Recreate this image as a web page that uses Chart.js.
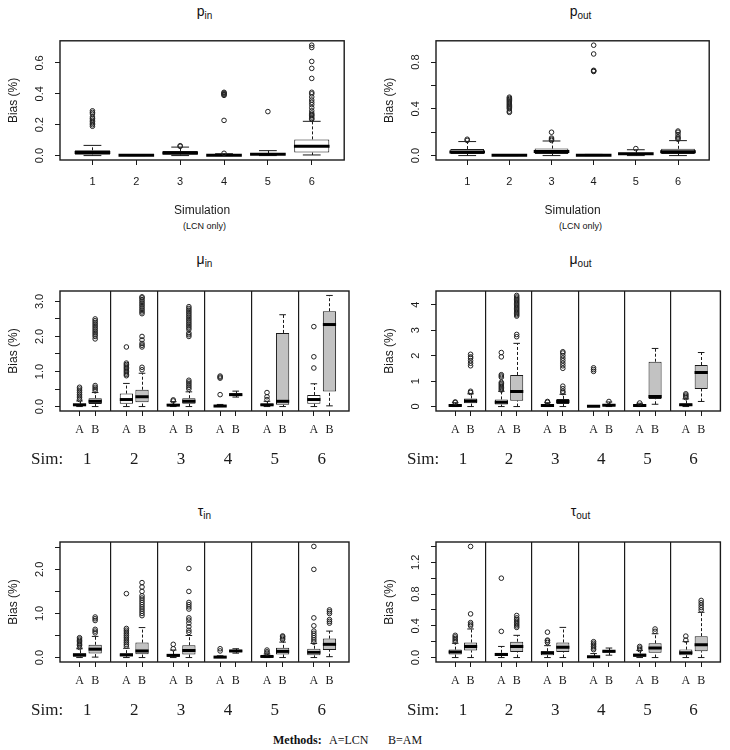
<!DOCTYPE html>
<html lang="en">
<head>
<meta charset="UTF-8">
<title>Bias boxplots</title>
<script src="https://cdn.jsdelivr.net/npm/chart.js"></script>
<style>
  body { margin: 0; background: #fff; width: 730px; height: 750px; position: relative; overflow: hidden;
         font-family: "Liberation Sans", Arial, sans-serif; color: #111; }
  canvas { position: absolute; }
  .title { position: absolute; width: 289px; text-align: center; font-size: 14px; line-height: 16px; }
  .title sub { font-size: 10px; vertical-align: -3px; }
  .note { position: absolute; width: 289px; text-align: center; font-size: 9px; }
  .methods { position: absolute; top: 733px; font-family: "Liberation Serif", serif; font-size: 12px; }
</style>
</head>
<body>
<div class="title" style="left:60px;top:3px">p<sub>in</sub></div>
<div class="title" style="left:436px;top:3px">p<sub>out</sub></div>
<div class="title" style="left:60px;top:251px">&mu;<sub>in</sub></div>
<div class="title" style="left:436px;top:251px">&mu;<sub>out</sub></div>
<div class="title" style="left:60px;top:503px">&tau;<sub>in</sub></div>
<div class="title" style="left:436px;top:503px">&tau;<sub>out</sub></div>
<div class="note" style="left:60px;top:221px">(LCN only)</div>
<div class="note" style="left:436px;top:221px">(LCN only)</div>
<div class="methods" style="left:273px"><b>Methods:</b></div>
<div class="methods" style="left:329px">A=LCN</div>
<div class="methods" style="left:388px">B=AM</div>

<canvas id="pIn" width="365" height="215" style="left:0;top:20px"></canvas>
<canvas id="pOut" width="354" height="215" style="left:376px;top:20px"></canvas>
<canvas id="muIn" width="365" height="210" style="left:0;top:270px"></canvas>
<canvas id="muOut" width="354" height="210" style="left:376px;top:270px"></canvas>
<canvas id="tauIn" width="365" height="200" style="left:0;top:520px"></canvas>
<canvas id="tauOut" width="354" height="200" style="left:376px;top:520px"></canvas>

<script>
const sims = [1, 2, 3, 4, 5, 6];
const posA = [1, 4, 7, 10, 13, 16];
const posB = [2, 5, 8, 11, 14, 17];
const sepPos = [3, 6, 9, 12, 15];

// each box: [lower whisker, Q1, median, Q3, upper whisker]
const pInStats = [[0, 0.006, 0.02, 0.034, 0.066], [0, 0.001, 0.002, 0.004, 0.007], [0, 0.006, 0.016, 0.03, 0.055],
                  [0, 0.001, 0.002, 0.005, 0.012], [0, 0.004, 0.009, 0.016, 0.032], [0.004, 0.02, 0.06, 0.105, 0.222]];
const pInOut = [[0.19, 0.2, 0.21, 0.22, 0.23, 0.24, 0.25, 0.27, 0.28, 0.29], [], [0.06, 0.064],
                [0.015, 0.228, 0.39, 0.395, 0.4, 0.405, 0.41], [0.285],
                [0.235, 0.24, 0.25, 0.26, 0.265, 0.275, 0.29, 0.31, 0.33, 0.345, 0.36, 0.38, 0.4, 0.41, 0.5, 0.565, 0.61, 0.7, 0.715]];
const pInTicks = [0, 0.2, 0.4, 0.6];
const pInTickLabels = ['0.0', '0.2', '0.4', '0.6'];

const pOutStats = [[0, 0.014, 0.03, 0.056, 0.12], [0, 0.001, 0.002, 0.004, 0.006], [0, 0.014, 0.035, 0.06, 0.125],
                   [0, 0.001, 0.002, 0.005, 0.01], [0, 0.006, 0.015, 0.025, 0.05], [0, 0.014, 0.032, 0.058, 0.128]];
const pOutOut = [[0.13, 0.14], [0.37, 0.38, 0.4, 0.41, 0.42, 0.43, 0.44, 0.45, 0.46, 0.47, 0.48, 0.49, 0.5],
                 [0.13, 0.14, 0.15, 0.2], [0.72, 0.725, 0.73, 0.87, 0.945], [0.06], [0.14, 0.15, 0.16, 0.18, 0.2, 0.21]];
const pOutTicks = [0, 0.2, 0.4, 0.6, 0.8];
const pOutTickLabels = ['0.0', '', '0.4', '', '0.8'];

const muInA = [[0, 0.02, 0.05, 0.08, 0.16], [0, 0.08, 0.2, 0.37, 0.66], [0, 0.02, 0.04, 0.07, 0.14],
               [0, 0.005, 0.015, 0.03, 0.06], [0, 0.02, 0.05, 0.08, 0.15], [0, 0.08, 0.2, 0.33, 0.65]];
const muInB = [[0, 0.07, 0.15, 0.24, 0.4], [0, 0.12, 0.28, 0.48, 0.95], [0, 0.08, 0.15, 0.24, 0.42],
               [0.27, 0.3, 0.34, 0.38, 0.44], [0, 0.05, 0.15, 2.1, 2.62], [0.02, 0.43, 2.34, 2.72, 3.17]];
const muInAOut = [[0.2, 0.25, 0.3, 0.35, 0.4, 0.45, 0.5, 0.55], [0.88, 0.92, 0.96, 1.0, 1.04, 1.08, 1.12, 1.16, 1.2, 1.24, 1.7],
                  [0.16, 0.19], [0.34, 0.81, 0.84, 0.87], [0.2, 0.28, 0.4], [1.1, 1.42, 2.28]];
const muInBOut = [[0.45, 0.5, 0.55, 0.6, 1.93, 2.0, 2.05, 2.1, 2.15, 2.2, 2.25, 2.3, 2.35, 2.4, 2.45, 2.5],
                  [1.05, 1.12, 1.7, 1.75, 1.8, 1.9, 2.0, 2.65, 2.7, 2.75, 2.8, 2.85, 2.9, 2.95, 3.0, 3.05, 3.1, 3.13],
                  [0.5, 0.55, 0.6, 0.65, 0.7, 0.75, 2.0, 2.05, 2.1, 2.2, 2.25, 2.3, 2.35, 2.4, 2.45, 2.5, 2.55, 2.6, 2.65, 2.7, 2.75, 2.8, 2.85],
                  [], [], []];
const muInTicks = [0, 0.5, 1, 1.5, 2, 2.5, 3];
const muInTickLabels = ['0.0', '', '1.0', '', '2.0', '', '3.0'];

const muOutA = [[0, 0.01, 0.04, 0.08, 0.15], [0, 0.08, 0.17, 0.28, 0.6], [0, 0.01, 0.04, 0.08, 0.15],
                [0, 0.002, 0.008, 0.02, 0.04], [0, 0.01, 0.04, 0.08, 0.13], [0, 0.02, 0.07, 0.12, 0.3]];
const muOutB = [[0, 0.13, 0.22, 0.32, 0.5], [0, 0.23, 0.59, 1.24, 2.48], [0, 0.1, 0.2, 0.3, 0.48],
                [0, 0.02, 0.05, 0.1, 0.18], [0.09, 0.3, 0.39, 1.76, 2.28], [0.2, 0.69, 1.34, 1.63, 2.12]];
const muOutAOut = [[0.16, 0.18], [0.65, 0.7, 0.75, 0.8, 0.85, 0.9, 0.95, 1.15, 1.2, 1.25, 1.95, 2.12],
                   [0.17, 0.2], [1.38, 1.45, 1.52], [0.14], [0.35, 0.4, 0.45, 0.5]];
const muOutBOut = [[0.55, 0.6, 1.6, 1.7, 1.8, 1.9, 1.95, 2.05],
                   [2.74, 2.83, 3.55, 3.6, 3.65, 3.7, 3.75, 3.8, 3.85, 3.9, 3.95, 4.0, 4.05, 4.1, 4.15, 4.2, 4.25, 4.3, 4.36],
                   [0.55, 0.6, 0.7, 0.8, 1.5, 1.6, 1.7, 1.8, 1.9, 2.0, 2.1, 2.15], [0.2], [], []];
const muOutTicks = [0, 1, 2, 3, 4];
const muOutTickLabels = ['0', '1', '2', '3', '4'];

const tauInA = [[0, 0.02, 0.06, 0.1, 0.2], [0, 0.03, 0.06, 0.1, 0.21], [0, 0.02, 0.05, 0.08, 0.17],
                [0, 0.004, 0.01, 0.02, 0.04], [0, 0.01, 0.025, 0.04, 0.08], [0, 0.05, 0.12, 0.2, 0.32]];
const tauInB = [[0.01, 0.09, 0.19, 0.29, 0.48], [0, 0.075, 0.15, 0.34, 0.68], [0, 0.07, 0.16, 0.28, 0.5],
                [0.1, 0.12, 0.15, 0.17, 0.2], [0, 0.07, 0.14, 0.22, 0.35], [0.02, 0.17, 0.3, 0.43, 0.6]];
const tauInAOut = [[0.23, 0.27, 0.3, 0.33, 0.36, 0.39, 0.42, 0.45],
                   [0.26, 0.3, 0.34, 0.38, 0.42, 0.46, 0.5, 0.54, 0.58, 0.62, 0.66, 1.45],
                   [0.2, 0.3], [0.15, 0.2], [0.1, 0.13, 0.17], [0.35, 0.4, 0.45, 0.5, 0.55, 0.6, 0.72, 0.9, 2.0, 2.52]];
const tauInBOut = [[0.56, 0.6, 0.64, 0.84, 0.88, 0.92],
                   [0.95, 1.0, 1.05, 1.1, 1.15, 1.2, 1.25, 1.3, 1.35, 1.4, 1.5, 1.6, 1.7],
                   [0.57, 0.62, 0.7, 0.78, 0.85, 0.9, 1.1, 1.15, 1.2, 1.25, 1.5, 2.02],
                   [], [0.41, 0.44, 0.47, 0.49], [0.78, 0.82, 0.86, 1.0, 1.04, 1.08]];
const tauInTicks = [0, 0.5, 1, 1.5, 2, 2.5];
const tauInTickLabels = ['0.0', '', '1.0', '', '2.0', ''];

const tauOutA = [[0, 0.04, 0.07, 0.1, 0.18], [0, 0.02, 0.04, 0.06, 0.14], [0, 0.03, 0.06, 0.08, 0.15],
                 [0, 0.003, 0.01, 0.02, 0.05], [0, 0.01, 0.03, 0.05, 0.09], [0, 0.03, 0.06, 0.1, 0.2]];
const tauOutB = [[0, 0.09, 0.14, 0.19, 0.36], [0, 0.07, 0.14, 0.2, 0.28], [0, 0.07, 0.13, 0.19, 0.38],
                 [0.03, 0.06, 0.08, 0.09, 0.12], [0, 0.06, 0.12, 0.18, 0.3], [0, 0.08, 0.16, 0.27, 0.57]];
const tauOutAOut = [[0.2, 0.22, 0.24, 0.26, 0.28], [0.33, 1.0], [0.19, 0.21, 0.22, 0.32],
                    [0.1, 0.12, 0.14, 0.16, 0.18, 0.2], [0.1, 0.12, 0.14], [0.22, 0.27]];
const tauOutBOut = [[0.4, 0.42, 0.44, 0.55, 1.4], [0.38, 0.4, 0.42, 0.44, 0.46, 0.48, 0.5, 0.53], [], [],
                    [0.33, 0.36], [0.6, 0.63, 0.66, 0.69, 0.72]];
const tauOutTicks = [0, 0.2, 0.4, 0.6, 0.8, 1.0, 1.2, 1.4];
const tauOutTickLabels = ['0.0', '', '0.4', '', '0.8', '', '1.2', ''];

const SANS = '"Liberation Sans", Arial, sans-serif';
const SERIF = '"Liberation Serif", "Times New Roman", serif';
const INK = '#1a1a1a';
Chart.defaults.font.family = SANS;
Chart.defaults.color = INK;

// dashed whiskers from the box edges out to the whisker ends
const whiskerPlugin = {
  id: 'whiskers',
  beforeDatasetsDraw(chart, args, opts) {
    const { ctx, scales: { x, y } } = chart;
    ctx.save();
    ctx.strokeStyle = INK;
    ctx.lineWidth = 1;
    ctx.setLineDash([3, 2]);
    opts.sets.forEach(s => s.pos.forEach((p, i) => {
      const st = s.stats[i];
      const px = Math.round(x.getPixelForValue(p)) + 0.5;
      ctx.beginPath();
      ctx.moveTo(px, y.getPixelForValue(st[0]));
      ctx.lineTo(px, y.getPixelForValue(st[1]));
      ctx.moveTo(px, y.getPixelForValue(st[3]));
      ctx.lineTo(px, y.getPixelForValue(st[4]));
      ctx.stroke();
    }));
    ctx.restore();
  }
};

const framePlugin = {
  id: 'frame',
  afterDatasetsDraw(chart) {
    const { ctx, chartArea: a } = chart;
    ctx.save();
    ctx.strokeStyle = INK;
    ctx.lineWidth = 1.4;
    ctx.strokeRect(a.left, a.top, a.right - a.left, a.bottom - a.top);
    ctx.restore();
  }
};

// R-style y tick labels, turned to read bottom to top
const yLabelPlugin = {
  id: 'yLabels',
  afterDraw(chart, args, opts) {
    const { ctx, chartArea, scales: { y } } = chart;
    ctx.save();
    ctx.font = '11px ' + SANS;
    ctx.fillStyle = INK;
    ctx.textAlign = 'center';
    ctx.textBaseline = 'middle';
    y.ticks.forEach((t, i) => {
      if (!opts.labels[i]) return;
      ctx.save();
      ctx.translate(chartArea.left - 20, y.getPixelForValue(t.value));
      ctx.rotate(-Math.PI / 2);
      ctx.fillText(opts.labels[i], 0, 0);
      ctx.restore();
    });
    ctx.restore();
  }
};

const simPlugin = {
  id: 'simLabels',
  afterDraw(chart, args, opts) {
    if (!opts.show) return;
    const { ctx, chartArea, scales: { x } } = chart;
    const y = chartArea.bottom + opts.offset;
    ctx.save();
    ctx.font = '17px ' + SERIF;
    ctx.fillStyle = INK;
    ctx.textBaseline = 'middle';
    ctx.textAlign = 'center';
    sims.forEach((s, i) => {
      ctx.fillText(String(s), (x.getPixelForValue(posA[i]) + x.getPixelForValue(posB[i])) / 2, y);
    });
    ctx.textAlign = 'left';
    ctx.fillText('Sim:', chartArea.left - 29, y);
    ctx.restore();
  }
};

function boxDatasets(s, barPct, medR) {
  return [
    { type: 'bar', xAxisID: 'x', data: s.pos.map((x, i) => ({ x, y: [s.stats[i][1], s.stats[i][3]] })),
      backgroundColor: s.fill, borderColor: INK, borderWidth: 1, borderSkipped: false,
      grouped: false, barPercentage: barPct, categoryPercentage: 1, order: 3 },
    { type: 'scatter', xAxisID: 'x', data: s.pos.map((x, i) => ({ x, y: s.stats[i][2] })),
      pointStyle: 'line', pointRadius: medR, borderColor: '#000', borderWidth: 3, order: 1 },
    { type: 'scatter', xAxisID: 'x', data: s.pos.flatMap((x, i) => [{ x, y: s.stats[i][0] }, { x, y: s.stats[i][4] }]),
      pointStyle: 'line', pointRadius: medR / 2, borderColor: INK, borderWidth: 1, order: 2 },
    { type: 'scatter', xAxisID: 'x', data: s.pos.flatMap((x, i) => s.out[i].map(y => ({ x, y }))),
      pointStyle: 'circle', pointRadius: 2.3, borderColor: '#222', borderWidth: 1,
      backgroundColor: 'rgba(0,0,0,0)', order: 0 }
  ];
}

function yRange(sets) {
  const vals = sets.flatMap(s => s.stats.flat().concat(s.out.flat()));
  const lo = Math.min(...vals), hi = Math.max(...vals), ext = (hi - lo) * 0.04;
  return [lo - ext, hi + ext];
}

function makePanel(id, p) {
  const [yMin, yMax] = yRange(p.sets);
  const grouped = p.sets.length > 1;
  const xTicks = grouped ? posA.concat(posB).sort((a, b) => a - b) : sims;
  const xLabels = grouped ? xTicks.map(v => posA.includes(v) ? 'A' : 'B') : sims.map(String);
  const scales = {
    x: {
      type: 'linear', position: 'bottom', offset: false,
      min: grouped ? -0.25 : 0.26, max: grouped ? 18.25 : 6.74,
      afterBuildTicks: s => { s.ticks = xTicks.map(v => ({ value: v })); },
      afterFit: s => { s.height = p.xHeight; },
      ticks: { callback: (v, i) => xLabels[i], autoSkip: false, maxRotation: 0, color: INK,
               padding: grouped ? 7 : 10,
               font: grouped ? { family: SERIF, size: 12 } : { size: 11 } },
      grid: { drawOnChartArea: false, tickLength: 5, color: INK, offset: false },
      border: { display: false },
      title: { display: !grouped, text: 'Simulation', color: INK, font: { size: 12 },
               padding: { top: 0, bottom: 17 } }
    },
    y: {
      type: 'linear', min: yMin, max: yMax,
      afterBuildTicks: s => { s.ticks = p.yTicks.map(v => ({ value: v })); },
      afterFit: s => { s.width = 60; },
      ticks: { display: false },
      grid: { drawOnChartArea: false, tickLength: 5, color: INK },
      border: { display: false },
      title: { display: true, text: 'Bias (%)', color: INK, font: { size: 12 }, padding: { top: 6, bottom: 0 } }
    }
  };
  if (grouped) {
    // vertical separators between the simulations
    scales.x2 = {
      type: 'linear', position: 'bottom', offset: false, min: -0.25, max: 18.25,
      afterBuildTicks: s => { s.ticks = sepPos.map(v => ({ value: v })); },
      afterFit: s => { s.height = 0; },
      ticks: { display: false },
      grid: { drawOnChartArea: true, drawTicks: false, color: INK, lineWidth: 1.2, offset: false },
      border: { display: false }
    };
  }
  const barPct = grouped ? 0.85 : 0.8;
  const medR = grouped ? 6.6 : 17.8;
  new Chart(document.getElementById(id), {
    type: 'bar',
    data: { datasets: p.sets.flatMap(s => boxDatasets(s, barPct, medR)) },
    options: {
      responsive: false, animation: false, events: [],
      layout: { padding: { top: p.top, right: p.right, left: 0, bottom: 0 } },
      plugins: {
        legend: { display: false }, tooltip: { enabled: false },
        whiskers: { sets: p.sets },
        yLabels: { labels: p.yLabels },
        simLabels: { show: grouped, offset: 49 }
      },
      scales
    },
    plugins: [whiskerPlugin, framePlugin, yLabelPlugin, simPlugin]
  });
}

const WHITE = '#ffffff', GREY = '#c2c2c2';

makePanel('pIn', { sets: [{ pos: sims, stats: pInStats, out: pInOut, fill: WHITE }],
  yTicks: pInTicks, yLabels: pInTickLabels, top: 20, right: 16, xHeight: 75 });
makePanel('pOut', { sets: [{ pos: sims, stats: pOutStats, out: pOutOut, fill: WHITE }],
  yTicks: pOutTicks, yLabels: pOutTickLabels, top: 20, right: 6, xHeight: 75 });
makePanel('muIn', { sets: [{ pos: posA, stats: muInA, out: muInAOut, fill: WHITE },
                           { pos: posB, stats: muInB, out: muInBOut, fill: GREY }],
  yTicks: muInTicks, yLabels: muInTickLabels, top: 21, right: 16, xHeight: 69 });
makePanel('muOut', { sets: [{ pos: posA, stats: muOutA, out: muOutAOut, fill: WHITE },
                            { pos: posB, stats: muOutB, out: muOutBOut, fill: GREY }],
  yTicks: muOutTicks, yLabels: muOutTickLabels, top: 21, right: 6, xHeight: 69 });
makePanel('tauIn', { sets: [{ pos: posA, stats: tauInA, out: tauInAOut, fill: WHITE },
                            { pos: posB, stats: tauInB, out: tauInBOut, fill: GREY }],
  yTicks: tauInTicks, yLabels: tauInTickLabels, top: 22, right: 16, xHeight: 58 });
makePanel('tauOut', { sets: [{ pos: posA, stats: tauOutA, out: tauOutAOut, fill: WHITE },
                             { pos: posB, stats: tauOutB, out: tauOutBOut, fill: GREY }],
  yTicks: tauOutTicks, yLabels: tauOutTickLabels, top: 22, right: 6, xHeight: 58 });
</script>
</body>
</html>
